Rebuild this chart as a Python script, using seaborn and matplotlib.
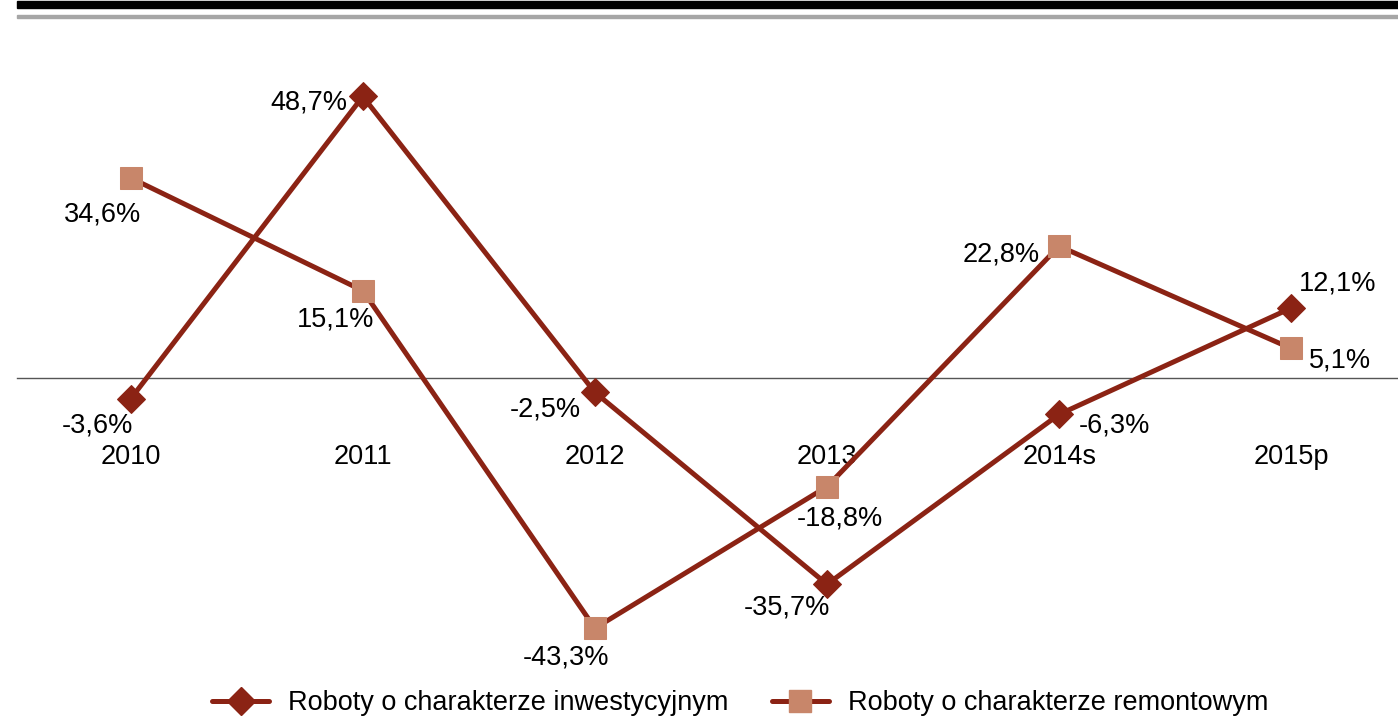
"""Dynamika robót budowlanych - wykres liniowy."""

import matplotlib

matplotlib.use("Agg")
import matplotlib.pyplot as plt
import numpy as np
import pandas as pd
import seaborn as sns
from matplotlib.lines import Line2D
from matplotlib.patches import Rectangle

years = ["2010", "2011", "2012", "2013", "2014s", "2015p"]
inwestycyjne = [-3.6, 48.7, -2.5, -35.7, -6.3, 12.1]
remontowe = [34.6, 15.1, -43.3, -18.8, 22.8, 5.1]

# przesunięcia etykiet (piksele)
off_inw = [(-33, -27), (-54, -6), (-50, -17), (-40, -23), (55, -11), (46, 25)]
off_rem = [(-28, -37), (-27, -29), (-29, -29), (13, -32), (-58, -8), (49, -12)]

LINE = "#8B2314"
SQUARE = "#C8866A"
FS = 19.5

sns.set_theme(style="white")
plt.rcParams["font.family"] = ["Liberation Sans", "DejaVu Sans"]
plt.rcParams["text.color"] = "black"
plt.rcParams["xtick.color"] = "black"

W, H = 1398, 717
fig = plt.figure(figsize=(W / 100, H / 100), dpi=100)
ax = fig.add_axes([17 / W, 57 / H, (W - 17) / W, 630 / H])

x = np.arange(len(years))
df = pd.DataFrame({"x": x, "inw": inwestycyjne, "rem": remontowe})

sns.lineplot(data=df, x="x", y="rem", ax=ax, color=LINE, linewidth=3.6,
             marker="s", markersize=16, markerfacecolor=SQUARE,
             markeredgecolor=SQUARE, zorder=3)
sns.lineplot(data=df, x="x", y="inw", ax=ax, color=LINE, linewidth=3.6,
             marker="D", markersize=14.5, markerfacecolor=LINE,
             markeredgecolor=LINE, zorder=4)

for xi, v, (dx, dy) in zip(x, inwestycyjne, off_inw):
    ax.annotate(f"{v:.1f}%".replace(".", ","), (xi, v), xytext=(dx, dy),
                textcoords="offset pixels", ha="center", va="center",
                fontsize=FS, color="black")
for xi, v, (dx, dy) in zip(x, remontowe, off_rem):
    ax.annotate(f"{v:.1f}%".replace(".", ","), (xi, v), xytext=(dx, dy),
                textcoords="offset pixels", ha="center", va="center",
                fontsize=FS, color="black")

ax.set_xlim(-0.49, 5.46)
ax.set_ylim(-48.8, 60.2)
ax.set_xlabel("")
ax.set_ylabel("")
ax.set_yticks([])
for s in ["top", "right", "left"]:
    ax.spines[s].set_visible(False)
ax.spines["bottom"].set_position(("data", 0))
ax.spines["bottom"].set_color("#555555")
ax.spines["bottom"].set_linewidth(1.0)
ax.spines["bottom"].set_zorder(1)
ax.set_xticks(x)
ax.set_xticklabels(years, fontsize=FS, color="black")
ax.tick_params(axis="x", length=0, pad=47.5)

# paski u góry
fig.patches.append(Rectangle((17 / W, 1 - 8 / H), 1, 7 / H, transform=fig.transFigure,
                             color="black", zorder=0))
fig.patches.append(Rectangle((17 / W, 1 - 18 / H), 1, 3 / H, transform=fig.transFigure,
                             color="#A6A6A6", zorder=0))

handles = [
    Line2D([], [], color=LINE, linewidth=3.6, marker="D", markersize=14.5,
           markerfacecolor=LINE, markeredgecolor=LINE),
    Line2D([], [], color=LINE, linewidth=3.6, marker="s", markersize=16,
           markerfacecolor=SQUARE, markeredgecolor=SQUARE),
]
labels = ["Roboty o charakterze inwestycyjnym", "Roboty o charakterze remontowym"]
fig.legend(handles, labels, loc="center", bbox_to_anchor=(740 / W, 1 - 703 / H),
           ncol=2, frameon=False, fontsize=FS, handlelength=2.1,
           handletextpad=0.7, columnspacing=1.6)

fig.savefig("out.png", dpi=100)
